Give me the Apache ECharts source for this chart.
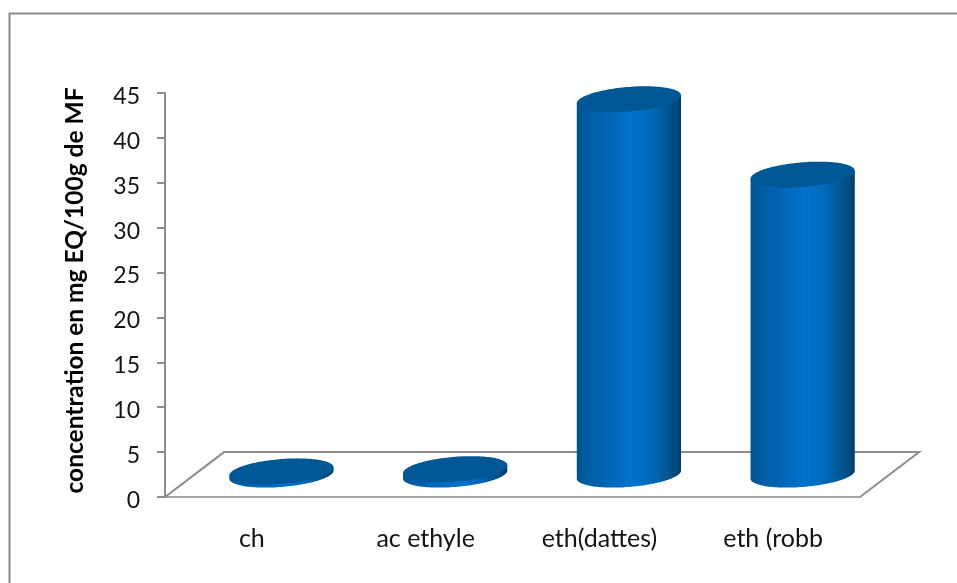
<!DOCTYPE html>
<html>
<head>
<meta charset="utf-8">
<style>html,body{margin:0;padding:0;background:#fff}#chart{width:957px;height:583px}</style>
<script src="https://cdn.jsdelivr.net/npm/echarts@6/dist/echarts.min.js"></script>
</head>
<body>
<div id="chart"></div>
<script>
// Extract concentrations per solvent fraction
const categories = ['ch', 'ac ethyle', 'eth(dattes)', 'eth (robb'];
const concentrations = [0.35, 0.6, 41.8, 33.4];
const yAxisTitle = 'concentration en mg EQ/100g de MF';

const GRAY = '#8c8c8c';
const TEXT = '#141414';
const FONT = 'Lato, "Open Sans", sans-serif';

// Oblique floor depth, in axis terms: depth rises by 5 y-units and shifts by a third of a band
const DEPTH_UNITS = 5;
const DEPTH_BAND = 0.34;
const BAR_BAND = 0.6;

const chart = echarts.init(document.getElementById('chart'), null, { renderer: 'canvas' });

function floorItem(params, api) {
  const cs = params.coordSys;
  const dy = api.size([0, DEPTH_UNITS])[1];
  const dx = (cs.width / categories.length) * DEPTH_BAND;
  const x0 = cs.x, x1 = cs.x + cs.width, y0 = cs.y + cs.height;
  return {
    type: 'polyline',
    shape: { points: [[x0, y0], [x0 + dx, y0 - dy], [x1 + dx, y0 - dy], [x1, y0]] },
    style: { stroke: GRAY, lineWidth: 2, fill: null }
  };
}

// Elliptic section of the cylinder; the shear gives the oblique view
function sectionPoint(cx, cy, rx, shear, ry, t) {
  return [cx + rx * Math.cos(t), cy - shear * Math.cos(t) + ry * Math.sin(t)];
}

function cylinderItem(params, api) {
  const band = api.size([1, 0])[0];
  const dy = api.size([0, DEPTH_UNITS])[1] / 2;
  const dx = band * DEPTH_BAND / 2;
  const base = api.coord([api.value(0), 0]);
  const top = api.coord([api.value(0), api.value(1)]);
  const cx = base[0] + dx;
  const yBase = base[1] - dy;
  const yTop = top[1] - dy;
  const rx = band * BAR_BAND / 2;
  const shear = rx * 0.077;
  const ry = rx * 0.238;
  const steps = 72;

  // Side wall: lower half of the base section, then straight up to the top section
  const wall = [];
  for (let i = 0; i <= steps; i++) {
    wall.push(sectionPoint(cx, yBase, rx, shear, ry, (i / steps) * Math.PI));
  }
  wall.push([cx - rx, yTop + shear], [cx + rx, yTop - shear]);

  const lid = [];
  for (let i = 0; i < steps * 2; i++) {
    lid.push(sectionPoint(cx, yTop, rx, shear, ry, (i / steps) * Math.PI));
  }

  return {
    type: 'group',
    children: [
      {
        type: 'polygon',
        shape: { points: wall },
        style: {
          fill: new echarts.graphic.LinearGradient(0, 0, 1, 0, [
            { offset: 0, color: '#00538f' },
            { offset: 0.1, color: '#005da3' },
            { offset: 0.3, color: '#0066b5' },
            { offset: 0.52, color: '#0072cc' },
            { offset: 0.72, color: '#0069ba' },
            { offset: 0.88, color: '#00558f' },
            { offset: 1, color: '#003d6b' }
          ])
        }
      },
      { type: 'polygon', shape: { points: lid }, style: { fill: '#005796' } }
    ]
  };
}

chart.setOption({
  animation: false,
  backgroundColor: '#ffffff',
  grid: { left: 165, top: 93, width: 695, height: 404, containLabel: false },
  graphic: [{
    type: 'polyline',
    shape: { points: [[9.5, 590], [9.5, 13.5], [960, 13.5]] },
    style: { stroke: GRAY, lineWidth: 2, fill: null },
    silent: true
  }],
  xAxis: {
    type: 'category',
    data: categories,
    axisLine: { lineStyle: { color: '#a6a6a6', width: 2 } },
    axisTick: { show: false },
    axisLabel: { color: TEXT, fontFamily: FONT, fontSize: 25, margin: 29 }
  },
  yAxis: {
    type: 'value',
    min: 0,
    max: 45,
    interval: 5,
    name: yAxisTitle,
    nameLocation: 'middle',
    nameRotate: 90,
    nameGap: 77,
    nameTextStyle: { color: '#000', fontFamily: FONT, fontWeight: 'bold', fontSize: 24.5, padding: [0, 0, 0, 9] },
    splitLine: { show: false },
    axisLine: { show: true, lineStyle: { color: GRAY, width: 2 } },
    axisTick: { show: true, length: 8, lineStyle: { color: GRAY, width: 2 } },
    axisLabel: { color: TEXT, fontFamily: FONT, fontSize: 23, margin: 25, verticalAlign: 'top', lineHeight: 7 }
  },
  series: [
    {
      name: 'floor',
      type: 'custom',
      coordinateSystem: 'cartesian2d',
      renderItem: floorItem,
      data: [[0, 0]],
      silent: true,
      z: 1
    },
    {
      name: 'concentration',
      type: 'custom',
      coordinateSystem: 'cartesian2d',
      renderItem: cylinderItem,
      encode: { x: 0, y: 1 },
      data: concentrations.map((v, i) => [i, v]),
      z: 3
    }
  ]
});
</script>
</body>
</html>
